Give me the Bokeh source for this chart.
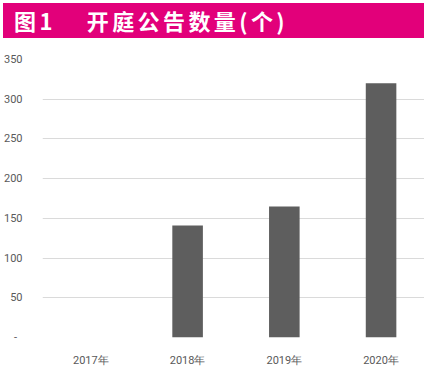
from bokeh.plotting import figure
from bokeh.models import Div, FixedTicker, Range1d
from bokeh.layouts import column
from bokeh.embed import file_html
from bokeh.resources import INLINE

title_prefix = "图1"
title_main = "开庭公告数量(个)"
years = ["2017年", "2018年", "2019年", "2020年"]
counts = [0, 141, 165, 320]
y_ticks = [0, 50, 100, 150, 200, 250, 300, 350]

MAGENTA = "#E2007A"
LABEL_FONT = "Roboto"

header = Div(
    text=('<div style="color:#ffffff;font-family:\'Noto Sans CJK SC\',sans-serif;'
          'font-weight:bold;font-size:22px;line-height:33px;padding-top:1px;'
          'padding-left:11px;letter-spacing:3.4px;white-space:nowrap;">'
          + title_prefix + '<span style="display:inline-block;width:31px;"></span>'
          + title_main + '</div>'),
    width=421, height=35, margin=(3, 0, 0, 3),
    styles={"background-color": MAGENTA},
)

xs = list(range(len(years)))

p = figure(
    x_range=Range1d(-0.5, 3.449),
    y_range=Range1d(0, 350),
    width=424, height=331,
    output_backend="svg", toolbar_location=None,
    min_border_left=37, min_border_right=0,
    min_border_top=21, min_border_bottom=30,
    background_fill_color="white", border_fill_color="white",
)
p.outline_line_color = None

p.vbar(x=xs, top=counts, width=0.316, fill_color="#5e5e5e", line_color=None)

p.xgrid.grid_line_color = None
p.ygrid.grid_line_color = "#dadada"
p.ygrid.grid_line_width = 1

p.yaxis.ticker = FixedTicker(ticks=y_ticks)
p.yaxis.major_label_overrides = {0: "-\u00a0\u00a0"}
p.xaxis.ticker = FixedTicker(ticks=xs)
p.xaxis.major_label_overrides = {i: y for i, y in zip(xs, years)}
for ax in (p.xaxis, p.yaxis):
    ax.axis_line_color = None
    ax.major_tick_line_color = None
    ax.minor_tick_line_color = None
    ax.major_label_text_color = "#595959"
    ax.major_label_text_font = LABEL_FONT
    ax.major_label_text_font_size = "11px"
p.yaxis.major_label_standoff = 14
p.xaxis.major_label_standoff = 10

layout = column(header, p, spacing=0)
open("out.html", "w").write(file_html(layout, INLINE))
